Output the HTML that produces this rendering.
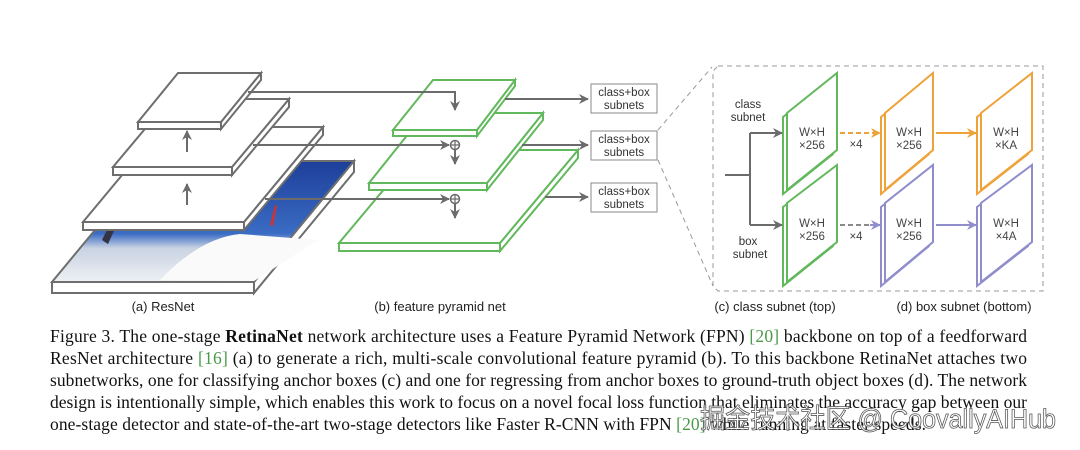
<!DOCTYPE html>
<html><head><meta charset="utf-8"><style>
html,body{margin:0;padding:0;background:#fff;}
svg{display:block;}
</style></head><body>
<svg width="1080" height="450" viewBox="0 0 1080 450" xmlns="http://www.w3.org/2000/svg">
<defs>
<marker id="ag" viewBox="0 0 10 10" refX="9" refY="5" markerWidth="5" markerHeight="5" orient="auto"><path d="M0,0L10,5L0,10L3,5z" fill="#6b6b6b"/></marker>
<marker id="ao" viewBox="0 0 10 10" refX="9" refY="5" markerWidth="5" markerHeight="5" orient="auto"><path d="M0,0L10,5L0,10L3,5z" fill="#eea23a"/></marker>
<marker id="ap" viewBox="0 0 10 10" refX="9" refY="5" markerWidth="5" markerHeight="5" orient="auto"><path d="M0,0L10,5L0,10L3,5z" fill="#8f8dcc"/></marker>
<linearGradient id="sky" x1="0" y1="0" x2="0" y2="1">
<stop offset="0" stop-color="#1d3f9a"/><stop offset="0.6" stop-color="#3b6cc4"/><stop offset="0.72" stop-color="#c9d3e2"/><stop offset="1" stop-color="#eef0f4"/></linearGradient>
</defs>
<g fill="#fff" stroke="#6e6e6e" stroke-width="2" stroke-linejoin="miter">
<polygon points="52,282 254,282 254,293 52,293"/>
<polygon points="254,282 354,161 354,172 254,293"/>
<polygon points="52,282 152,161 354,161 254,282" fill="url(#sky)"/>
<path d="M160,280 Q200,238 240,234 L318,240 L254,281Z" fill="#fafafa" stroke="none"/>
<path d="M102,240 L112,220 L118,222 L108,244Z" fill="#334" stroke="none"/>
<path d="M270,225 L275,205 L277,206 L273,226Z" fill="#c33" stroke="none"/>
<polygon points="83,222 244,222 244,230 83,230"/>
<polygon points="244,222 323,127 323,135 244,230"/>
<polygon points="83,222 162,127 323,127 244,222"/>
<polygon points="113,167 232,167 232,175 113,175"/>
<polygon points="232,167 289,99 289,107 232,175"/>
<polygon points="113,167 170,99 289,99 232,167"/>
<polygon points="138,122 221,122 221,129 138,129"/>
<polygon points="221,122 261,73 261,80 221,129"/>
<polygon points="138,122 178,73 261,73 221,122"/>
</g>
<g stroke="#6b6b6b" stroke-width="2" fill="none">
<line x1="187" y1="205" x2="187" y2="184" marker-end="url(#ag)"/>
<line x1="187" y1="152" x2="187" y2="131" marker-end="url(#ag)"/>
</g>
<g fill="#fff" stroke="#62b85c" stroke-width="2">
<polygon points="339,243 500,243 500,251 339,251"/>
<polygon points="500,243 578,150 578,158 500,251"/>
<polygon points="339,243 417,150 578,150 500,243"/>
<polygon points="369,183 487,183 487,190 369,190"/>
<polygon points="487,183 543,113 543,120 487,190"/>
<polygon points="369,183 425,113 543,113 487,183"/>
<polygon points="393,130 477,130 477,136 393,136"/>
<polygon points="477,130 515,80 515,86 477,136"/>
<polygon points="393,130 433,80 515,80 477,130"/>
</g>
<g stroke="#6b6b6b" stroke-width="2" fill="none">
<polyline points="248,92 455,92 455,110" marker-end="url(#ag)"/>
<line x1="253" y1="145" x2="449" y2="145" marker-end="url(#ag)"/>
<line x1="265" y1="199" x2="449" y2="199" marker-end="url(#ag)"/>
<circle cx="455" cy="145" r="4.5" stroke-width="1.5"/>
<path d="M450.5,145h9M455,140.5v9" stroke-width="1.2"/>
<circle cx="455" cy="199" r="4.5" stroke-width="1.5"/>
<path d="M450.5,199h9M455,194.5v9" stroke-width="1.2"/>
<line x1="455" y1="150" x2="455" y2="164" marker-end="url(#ag)"/>
<line x1="455" y1="204" x2="455" y2="218" marker-end="url(#ag)"/>
<line x1="505" y1="99" x2="588" y2="99" marker-end="url(#ag)"/>
<line x1="522" y1="145" x2="588" y2="145" marker-end="url(#ag)"/>
<line x1="545" y1="197" x2="588" y2="197" marker-end="url(#ag)"/>
</g>
<g fill="#fff" stroke="#888" stroke-width="1">
<rect x="591" y="84" width="66" height="29"/>
<rect x="591" y="131" width="66" height="29"/>
<rect x="591" y="183" width="66" height="29"/>
</g>
<g font-family="Liberation Sans, sans-serif" font-size="11.5" fill="#333" text-anchor="middle">
<text x="624" y="96">class+box</text><text x="624" y="109">subnets</text>
<text x="624" y="143">class+box</text><text x="624" y="156">subnets</text>
<text x="624" y="195">class+box</text><text x="624" y="208">subnets</text>
</g>
<g stroke="#999" stroke-width="1" fill="none" stroke-dasharray="5,4">
<line x1="658" y1="130" x2="712" y2="67"/>
<line x1="658" y1="160" x2="713" y2="286"/>
<path d="M718,66 H1043 V291 H718 L713,286 V71 Z"/>
</g>
<g fill="#fff" stroke-width="2">
<g stroke="#62b85c">
<polygon points="783,117 833,77 833,154 783,194"/>
<polygon points="787,113 837,73 837,150 787,190"/>
<polygon points="783,207 833,169 833,246 783,286"/>
<polygon points="787,203 837,165 837,242 787,282"/>
</g>
<g stroke="#eea23a">
<polygon points="881,117 929,77 929,154 881,194"/>
<polygon points="885,113 933,73 933,150 885,190"/>
<polygon points="977,117 1028,77 1028,154 977,194"/>
<polygon points="981,113 1032,73 1032,150 981,190"/>
</g>
<g stroke="#8f8dcc">
<polygon points="881,207 929,169 929,246 881,286"/>
<polygon points="885,203 933,165 933,242 885,282"/>
<polygon points="977,207 1028,169 1028,246 977,286"/>
<polygon points="981,203 1032,165 1032,242 981,282"/>
</g>
</g>
<g fill="none" stroke-width="2">
<polyline points="725,175 750,175" stroke="#6b6b6b"/>
<polyline points="750,133 750,225" stroke="#6b6b6b"/>
<line x1="750" y1="133" x2="782" y2="133" stroke="#6b6b6b" marker-end="url(#ag)"/>
<line x1="750" y1="225" x2="782" y2="225" stroke="#6b6b6b" marker-end="url(#ag)"/>
<line x1="840" y1="133" x2="880" y2="133" stroke="#eea23a" stroke-dasharray="5,3" marker-end="url(#ao)"/>
<line x1="936" y1="133" x2="976" y2="133" stroke="#eea23a" marker-end="url(#ao)"/>
<line x1="840" y1="225" x2="880" y2="225" stroke="#8a8a8a" stroke-dasharray="5,3"/>
<line x1="870" y1="225" x2="880" y2="225" stroke="#8f8dcc" marker-end="url(#ap)"/>
<line x1="936" y1="225" x2="976" y2="225" stroke="#8f8dcc" marker-end="url(#ap)"/>
</g>
<g font-family="Liberation Sans, sans-serif" font-size="11.5" fill="#444" text-anchor="middle">
<text x="812" y="136">W×H</text><text x="812" y="149">×256</text>
<text x="812" y="227">W×H</text><text x="812" y="240">×256</text>
<text x="909" y="136">W×H</text><text x="909" y="149">×256</text>
<text x="909" y="227">W×H</text><text x="909" y="240">×256</text>
<text x="1006" y="136">W×H</text><text x="1006" y="149">×KA</text>
<text x="1006" y="227">W×H</text><text x="1006" y="240">×4A</text>
<text x="856" y="148">×4</text><text x="856" y="240">×4</text>
<text x="748" y="108" fill="#333">class</text><text x="748" y="121" fill="#333">subnet</text>
<text x="748" y="245" fill="#333">box</text><text x="750" y="258" fill="#333">subnet</text>
</g>
<g font-family="Liberation Sans, sans-serif" font-size="13" fill="#222" text-anchor="middle">
<text x="163" y="311">(a) ResNet</text>
<text x="440" y="311">(b) feature pyramid net</text>
<text x="775" y="311">(c) class subnet (top)</text>
<text x="964" y="311">(d) box subnet (bottom)</text>
</g>
<g font-family="Liberation Serif, serif" font-size="17.5" fill="#111">
<text x="50" y="342" textLength="977" lengthAdjust="spacing">Figure 3. The one-stage <tspan font-weight="bold">RetinaNet</tspan> network architecture uses a Feature Pyramid Network (FPN) <tspan fill="#4a9a4a">[20]</tspan> backbone on top of a feedforward</text>
<text x="50" y="364" textLength="977" lengthAdjust="spacing">ResNet architecture <tspan fill="#4a9a4a">[16]</tspan> (a) to generate a rich, multi-scale convolutional feature pyramid (b).  To this backbone RetinaNet attaches two</text>
<text x="50" y="386" textLength="977" lengthAdjust="spacing">subnetworks, one for classifying anchor boxes (c) and one for regressing from anchor boxes to ground-truth object boxes (d). The network</text>
<text x="50" y="408" textLength="977" lengthAdjust="spacing">design is intentionally simple, which enables this work to focus on a novel focal loss function that eliminates the accuracy gap between our</text>
<text x="50" y="430" textLength="876" lengthAdjust="spacing">one-stage detector and state-of-the-art two-stage detectors like Faster R-CNN with FPN <tspan fill="#4a9a4a">[20]</tspan> while running at faster speeds.</text>
</g>
<text x="700" y="428" font-family="Liberation Sans, 'Noto Sans CJK SC', sans-serif" font-size="27" fill="#fff" fill-opacity="0.85" stroke="#555" stroke-width="0.8" textLength="356" lengthAdjust="spacingAndGlyphs">掘金技术社区 @ CoovallyAIHub</text>
</svg>
</body></html>
